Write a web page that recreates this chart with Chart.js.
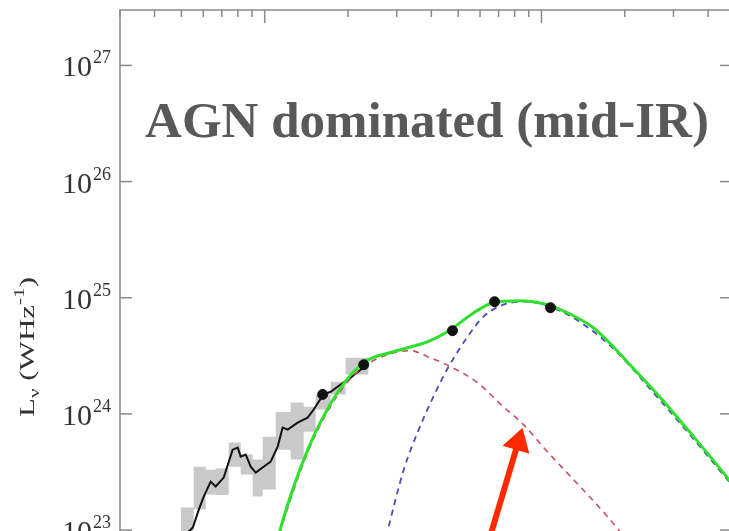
<!DOCTYPE html>
<html>
<head>
<meta charset="utf-8">
<title>AGN dominated (mid-IR)</title>
<script src="https://cdn.jsdelivr.net/npm/chart.js@4.4.1/dist/chart.umd.min.js"></script>
<style>
  html, body { margin: 0; padding: 0; background: #fff; overflow: hidden; }
  #sed { display: block; }
</style>
</head>
<body>
<canvas id="sed" width="740" height="600"></canvas>
<script>
// rest wavelength in micron, luminosity in W/Hz
const specLambda = [0.519, 0.550, 0.578, 0.602, 0.638, 0.665, 0.711, 0.766, 0.799, 0.819, 0.854, 0.890, 0.928, 0.983,
  1.051, 1.114, 1.161, 1.211, 1.315, 1.429, 1.503, 1.567, 1.633, 1.731, 1.881, 2.044, 2.221, 2.315];
const specL = [9.15e22, 1.05e23, 1.50e23, 1.94e23, 2.61e23, 2.37e23, 2.83e23, 4.92e23, 5.12e23, 4.29e23, 4.46e23, 3.51e23, 3.12e23, 3.45e23,
  3.88e23, 5.23e23, 7.62e23, 7.32e23, 8.41e23, 9.29e23, 1.09e24, 1.27e24, 1.47e24, 1.55e24, 1.79e24, 2.05e24, 2.40e24, 2.76e24];

// spectrum uncertainty, one value per bin (last entry closes the final bin)
const bandLambda = [0.4975, 0.554, 0.612, 0.665, 0.741, 0.819, 0.905, 0.983, 1.096, 1.241, 1.383, 1.528, 1.731, 1.96, 2.374];
const bandLow = [8.3e22, 1.5e23, 2.02e23, 2.0e23, 3.51e23, 3.0e23, 1.94e23, 2.23e23, 4.92e23, 4.04e23, 7.03e23, 1.09e24, 1.47e24, 2.18e24, 2.18e24];
const bandHigh = [1.56e23, 3.51e23, 3.31e23, 3.4e23, 5.66e23, 4.46e23, 4.04e23, 6.37e23, 1.04e24, 1.25e24, 1.15e24, 1.47e24, 1.89e24, 3.05e24, 3.05e24];

// photometry
const photLambda = [1.62, 2.28, 4.77, 6.77, 10.78];
const photL = [1.47e24, 2.65e24, 5.2e24, 9.24e24, 8.2e24];

// model components
const totalLambda = [1.069, 1.142, 1.43, 1.83, 2.28, 2.92, 3.88, 4.69, 5.68, 6.71, 8.40, 10.5, 11.71, 13.05, 15.4, 17.75, 20.4, 26.9, 35.4, 47.7, 52.3];
const totalL = [5.57e22, 1.05e23, 4.9e23, 1.52e24, 2.76e24, 3.43e24, 4.18e24, 5.3e24, 7.4e24, 9.06e24, 9.4e24, 8.7e24, 7.89e24, 7.0e24, 5.52e24, 4.02e24, 2.81e24, 1.38e24, 6.4e23, 2.7e23, 2.06e23];

const starLambda = [1.05, 1.142, 1.43, 1.83, 2.28, 2.92, 3.37, 3.88, 4.69, 5.87, 7.29, 8.61, 10.5, 13.05, 17.3, 20.96, 24.7];
const starL = [5.0e22, 1.0e23, 4.65e23, 1.44e24, 2.55e24, 3.35e24, 3.5e24, 3.11e24, 2.55e24, 1.86e24, 1.15e24, 8.08e23, 4.73e23, 2.72e23, 1.31e23, 7.5e22, 4.6e22];

const agnLambda = [2.58, 2.80, 3.18, 3.60, 4.07, 4.62, 5.41, 6.17, 7.29, 8.90, 10.5, 13.05, 17.75, 26.9, 35.4, 47.7, 52.3];
const agnL = [4.6e22, 1.05e23, 3.3e23, 7.3e23, 1.41e24, 2.55e24, 4.62e24, 6.87e24, 8.71e24, 9.25e24, 8.5e24, 6.7e24, 3.85e24, 1.3e24, 6.1e23, 2.6e23, 2.0e23];

const yExponents = [23, 24, 25, 26, 27];
const titleText = 'AGN dominated (mid-IR)';

const pts = (xs, ys) => xs.map((x, i) => ({ x, y: ys[i] }));
const SERIF = "'Liberation Serif', 'Times New Roman', 'DejaVu Serif', serif";

const decor = {
  id: 'decor',
  afterDraw(chart) {
    const { ctx, chartArea: a, scales: { x, y } } = chart;
    ctx.save();

    // arrow pointing at the stellar component
    const tail = { x: x.getPixelForValue(6.0), y: y.getPixelForValue(4.5e22) };
    const tip = { x: x.getPixelForValue(8.54), y: y.getPixelForValue(7.6e23) };
    const ang = Math.atan2(tip.y - tail.y, tip.x - tail.x);
    const headLen = 23, headHalf = 14;
    const bx = tip.x - headLen * Math.cos(ang), by = tip.y - headLen * Math.sin(ang);
    ctx.strokeStyle = '#ff2a00';
    ctx.fillStyle = '#ff2a00';
    ctx.lineWidth = 6;
    ctx.beginPath();
    ctx.moveTo(tail.x, tail.y);
    ctx.lineTo(bx + 2 * Math.cos(ang), by + 2 * Math.sin(ang));
    ctx.stroke();
    ctx.beginPath();
    ctx.moveTo(tip.x, tip.y);
    ctx.lineTo(bx + headHalf * Math.sin(ang), by - headHalf * Math.cos(ang));
    ctx.lineTo(bx - headHalf * Math.sin(ang), by + headHalf * Math.cos(ang));
    ctx.closePath();
    ctx.fill();

    // frame
    ctx.strokeStyle = '#8a8a8a';
    ctx.lineWidth = 1.5;
    ctx.strokeRect(a.left, a.top, a.right - a.left, a.bottom - a.top);

    const seg = (x0, y0, x1, y1) => { ctx.beginPath(); ctx.moveTo(x0, y0); ctx.lineTo(x1, y1); ctx.stroke(); };

    // decade ticks on both vertical axes
    yExponents.forEach(e => {
      const py = y.getPixelForValue(Math.pow(10, e));
      seg(a.left, py, a.left + 12, py);
      seg(a.right - 10, py, a.right, py);
    });

    // log ticks along the top
    for (let d = -1; d <= 1; d++) {
      for (let m = 1; m <= 9; m++) {
        const v = m * Math.pow(10, d);
        if (v <= x.min || v >= x.max) continue;
        const px = x.getPixelForValue(v);
        seg(px, a.top, px, a.top + (m === 1 ? 13 : 7));
      }
    }

    // y tick labels 10^n
    ctx.fillStyle = '#333';
    ctx.textBaseline = 'alphabetic';
    yExponents.forEach(e => {
      const py = y.getPixelForValue(Math.pow(10, e));
      const right = a.left - 9;
      ctx.font = '18px ' + SERIF;
      const wExp = ctx.measureText(String(e)).width;
      ctx.textAlign = 'left';
      ctx.fillText(String(e), right - wExp, py - 2);
      ctx.font = '30px ' + SERIF;
      ctx.textAlign = 'right';
      ctx.fillText('10', right - wExp - 1, py + 11);
    });

    // y axis title: L_nu (WHz^-1)
    const parts = [
      { t: 'L', size: 22, dy: 0 },
      { t: 'ν', size: 15, dy: 5 },
      { t: ' (WHz', size: 22, dy: 0 },
      { t: '-1', size: 15, dy: -10 },
      { t: ')', size: 22, dy: 0 }
    ];
    let total = 0;
    parts.forEach(p => { ctx.font = p.size + 'px ' + SERIF; p.w = ctx.measureText(p.t).width; total += p.w; });
    ctx.save();
    ctx.translate(34, 347);
    ctx.rotate(-Math.PI / 2);
    ctx.scale(140 / total, 1);
    ctx.textAlign = 'left';
    let cx = -total / 2;
    parts.forEach(p => {
      ctx.font = p.size + 'px ' + SERIF;
      ctx.fillText(p.t, cx, p.dy);
      cx += p.w;
    });
    ctx.restore();

    // panel caption
    ctx.fillStyle = '#595959';
    ctx.font = 'bold 51px ' + SERIF;
    ctx.textAlign = 'center';
    ctx.fillText(titleText, 427, 137);

    ctx.restore();
  }
};

new Chart(document.getElementById('sed'), {
  type: 'line',
  data: {
    datasets: [
      {
        data: pts(photLambda, photL),
        showLine: false,
        pointRadius: 5,
        pointBackgroundColor: '#111',
        pointBorderColor: '#111',
        order: 0
      },
      {
        data: pts(totalLambda, totalL),
        borderColor: '#2fe02f',
        borderWidth: 3,
        pointRadius: 0,
        cubicInterpolationMode: 'monotone',
        order: 1
      },
      {
        data: pts(agnLambda, agnL),
        borderColor: '#4b4bb4',
        borderWidth: 1.8,
        borderDash: [6, 5],
        pointRadius: 0,
        cubicInterpolationMode: 'monotone',
        order: 2
      },
      {
        data: pts(starLambda, starL),
        borderColor: '#c8505c',
        borderWidth: 1.6,
        borderDash: [6, 5],
        pointRadius: 0,
        cubicInterpolationMode: 'monotone',
        order: 3
      },
      {
        data: pts(specLambda, specL),
        borderColor: '#111',
        borderWidth: 2,
        pointRadius: 0,
        tension: 0,
        order: 4
      },
      {
        data: pts(bandLambda, bandHigh),
        borderWidth: 0,
        borderColor: 'rgba(0,0,0,0)',
        backgroundColor: '#c9c9c9',
        stepped: true,
        pointRadius: 0,
        fill: '+1',
        order: 5
      },
      {
        data: pts(bandLambda, bandLow),
        borderWidth: 0,
        borderColor: 'rgba(0,0,0,0)',
        stepped: true,
        pointRadius: 0,
        fill: false,
        order: 6
      }
    ]
  },
  options: {
    responsive: false,
    animation: false,
    events: [],
    layout: { padding: { left: 120, top: 10, right: 10, bottom: 35 } },
    plugins: { legend: { display: false }, tooltip: { enabled: false } },
    scales: {
      x: { type: 'logarithmic', position: 'top', min: 0.3, max: 48, display: false },
      y: { type: 'logarithmic', min: 5e22, max: 3e27, display: false }
    }
  },
  plugins: [decor]
});
</script>
</body>
</html>
